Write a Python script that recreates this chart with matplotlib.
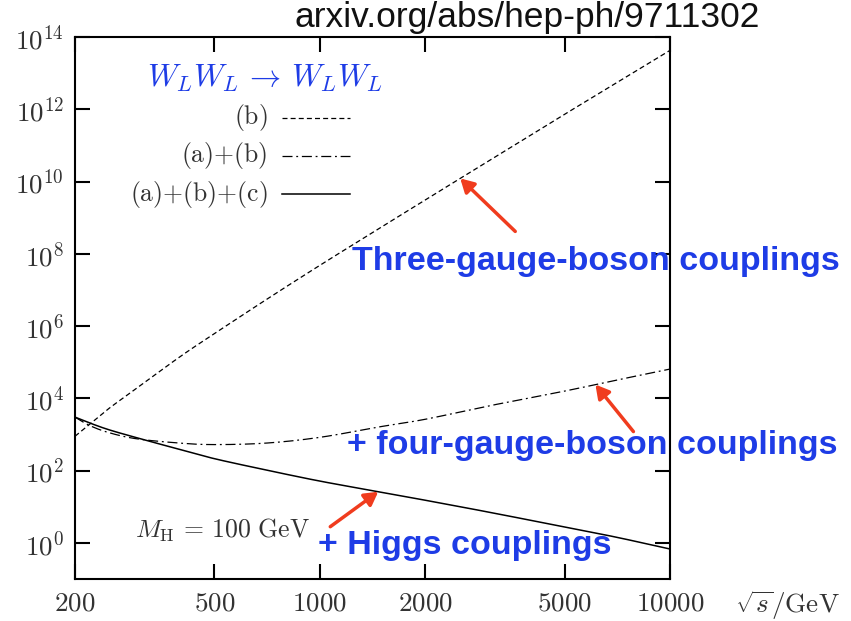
import numpy as np
import matplotlib
matplotlib.use("Agg")
import matplotlib.pyplot as plt
from matplotlib.ticker import FixedLocator, FuncFormatter, NullLocator

plt.rcParams['mathtext.fontset'] = 'cm'
plt.rcParams['font.family'] = ['Liberation Sans', 'DejaVu Sans']

# sqrt(s) in GeV and log10 of the curves
sqrt_s = np.array([200, 220, 250, 300, 400, 500, 700, 1000, 1500, 2000, 3000, 5000, 7000, 10000])
log_b = np.array([2.95, 3.28, 3.72, 4.28, 5.16, 5.79, 6.72, 7.68, 8.74, 9.49, 10.54, 11.86, 12.72, 13.63])
log_ab = np.array([3.48, 3.25, 3.05, 2.88, 2.76, 2.72, 2.76, 2.92, 3.22, 3.42, 3.78, 4.20, 4.50, 4.81])
log_abc = np.array([3.48, 3.32, 3.13, 2.91, 2.58, 2.33, 2.02, 1.71, 1.40, 1.18, 0.86, 0.44, 0.16, -0.17])

x_ticks = [200, 500, 1000, 2000, 5000, 10000]
y_ticks = [1e0, 1e2, 1e4, 1e6, 1e8, 1e10, 1e12, 1e14]

legend_labels = ["(b)", "(a){+}(b)", "(a){+}(b){+}(c)"]
blue = "#1e3ce6"
red = "#f03c1e"
grey = "#333333"
dash_b = (4, 2.5)
dash_ab = (8, 3, 1.5, 3)


def smooth(lx, ly, n=30):
    # Catmull-Rom through the points, in log-log space
    px = np.concatenate([[2 * lx[0] - lx[1]], lx, [2 * lx[-1] - lx[-2]]])
    py = np.concatenate([[2 * ly[0] - ly[1]], ly, [2 * ly[-1] - ly[-2]]])
    xs, ys = [], []
    t = np.linspace(0, 1, n, endpoint=False)
    for i in range(1, len(px) - 2):
        for arr, out in ((px, xs), (py, ys)):
            p0, p1, p2, p3 = arr[i - 1:i + 3]
            out.append(0.5 * (2 * p1 + (-p0 + p2) * t + (2 * p0 - 5 * p1 + 4 * p2 - p3) * t ** 2
                              + (-p0 + 3 * p1 - 3 * p2 + p3) * t ** 3))
    xs.append([lx[-1]])
    ys.append([ly[-1]])
    return 10 ** np.concatenate(xs), 10 ** np.concatenate(ys)


fig = plt.figure(figsize=(8.51, 6.21), dpi=100)
ax = fig.add_axes([75 / 851, 42 / 621, 595 / 851, 542 / 621])

lx = np.log10(sqrt_s)
ax.plot(*smooth(lx, log_b), color="black", lw=0.9, dashes=dash_b)
ax.plot(*smooth(lx, log_ab), color="black", lw=0.9, dashes=dash_ab)
ax.plot(*smooth(lx, log_abc), color="black", lw=1.1)

ax.set_xscale("log")
ax.set_yscale("log")
ax.set_xlim(200, 10000)
ax.set_ylim(1e-1, 1e14)

ax.xaxis.set_major_locator(FixedLocator(x_ticks))
ax.xaxis.set_minor_locator(NullLocator())
ax.yaxis.set_major_locator(FixedLocator(y_ticks))
ax.yaxis.set_minor_locator(NullLocator())
ax.xaxis.set_major_formatter(FuncFormatter(lambda v, p: r"$%d$" % v))
ax.yaxis.set_major_formatter(FuncFormatter(lambda v, p: r"$10^{%d}$" % round(np.log10(v))))
ax.tick_params(which="major", direction="in", length=11, width=1.5, top=True, right=True,
               labelsize=19.5, labelcolor=grey, pad=8)
for s in ax.spines.values():
    s.set_linewidth(1.5)

# legend drawn by hand
for i, (lab, st) in enumerate(zip(legend_labels, [dash_b, dash_ab, None])):
    yy = 0.851 - i * 0.0705
    ax.text(0.324, yy, r"$\mathrm{%s}$" % lab, transform=ax.transAxes, ha="right", va="center",
            fontsize=18.5, color=grey)
    if st is None:
        ax.plot([0.348, 0.462], [yy, yy], transform=ax.transAxes, color="black", lw=1.1)
    else:
        ax.plot([0.348, 0.462], [yy, yy], transform=ax.transAxes, color="black", lw=0.9, dashes=st)

ax.text(0.319, 0.924, r"$W_L W_L \,\rightarrow\, W_L W_L$", transform=ax.transAxes,
        ha="center", va="center", fontsize=22.5, color=blue)
ax.text(0.101, 0.090, r"$M_{\mathrm{H}}\,=\,100\ \mathrm{GeV}$", transform=ax.transAxes,
        ha="left", va="center", fontsize=18.5, color=grey)

# arrows pointing onto the curves
arrows = [(2518, log_b, (55, -53)), (6124, log_ab, (38, -47)), (1469, log_abc, (-48, -35))]
for xa, ly, off in arrows:
    ya = 10 ** np.interp(np.log10(xa), lx, ly)
    ax.annotate("", xy=(xa, ya), xytext=off, textcoords="offset pixels",
                arrowprops=dict(arrowstyle="-|>,head_length=0.8,head_width=0.45",
                                color=red, lw=2.5, shrinkA=0, shrinkB=0))

labels = [("Three-gauge-boson couplings", 0.4655, 0.585),
          ("+ four-gauge-boson couplings", 0.457, 0.247),
          ("+ Higgs couplings", 0.408, 0.061)]
for txt, tx, ty in labels:
    ax.text(tx, ty, txt, transform=ax.transAxes, ha="left", va="center", fontsize=24.5,
            fontweight="bold", color=blue, clip_on=False, zorder=5)

fig.text(735 / 851, 1 - 605 / 621, r"$\sqrt{s}/\mathrm{GeV}$", ha="left", va="center",
         fontsize=19.5, color=grey)
fig.text(760 / 851, 1 - 17 / 621, "arxiv.org/abs/hep-ph/9711302", ha="right", va="center",
         fontsize=25.5, color="#111111")

fig.savefig("out.png", dpi=100)
